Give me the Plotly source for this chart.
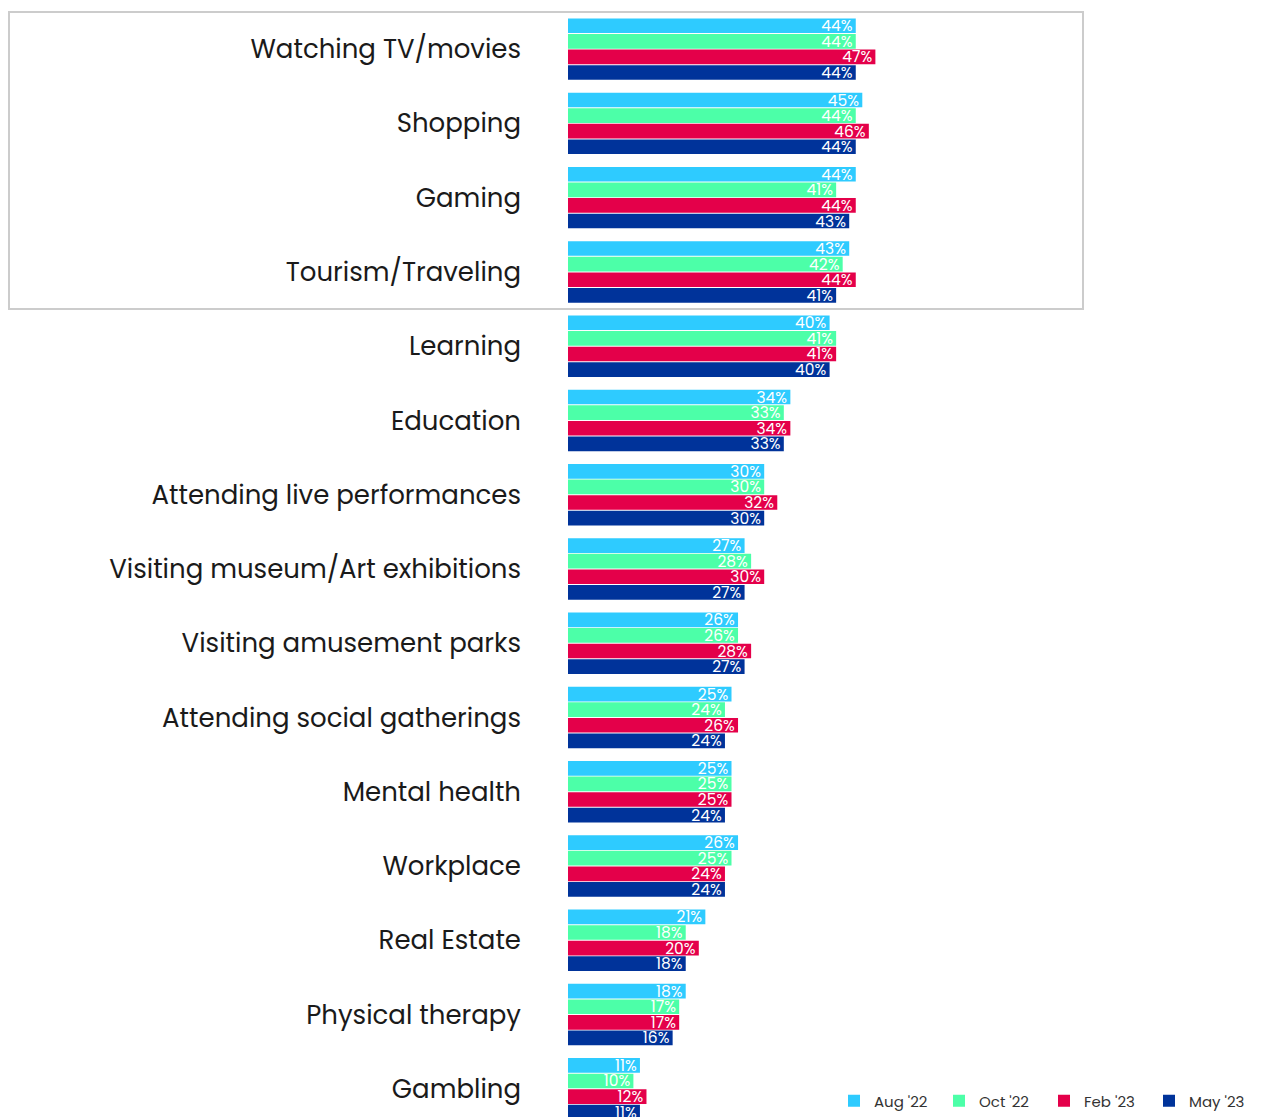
import plotly.graph_objects as go

categories = ["Watching TV/movies", "Shopping", "Gaming", "Tourism/Traveling", "Learning",
              "Education", "Attending live performances", "Visiting museum/Art exhibitions",
              "Visiting amusement parks", "Attending social gatherings", "Mental health",
              "Workplace", "Real Estate", "Physical therapy", "Gambling"]
series_names = ["Aug '22", "Oct '22", "Feb '23", "May '23"]
aug22 = [44, 45, 44, 43, 40, 34, 30, 27, 26, 25, 25, 26, 21, 18, 11]
oct22 = [44, 44, 41, 42, 41, 33, 30, 28, 26, 24, 25, 25, 18, 17, 10]
feb23 = [47, 46, 44, 44, 41, 34, 32, 30, 28, 26, 25, 24, 20, 17, 12]
may23 = [44, 44, 43, 41, 40, 33, 30, 27, 27, 24, 24, 24, 18, 16, 11]
colors = ["#2ECBFF", "#4CFFA8", "#E4004A", "#00339A"]

FONT = "Poppins, Inter, 'Noto Sans', sans-serif"
W, H = 1255, 1109
ML, MR, MT, MB = 560, 41, 4, 0

fig = go.Figure()
for name, vals, col in zip(series_names, [aug22, oct22, feb23, may23], colors):
    fig.add_trace(go.Bar(
        y=categories, x=vals, name=name, orientation="h",
        marker=dict(color=col, line=dict(width=0)),
        text=[f"{v}%" for v in vals], textposition="inside", insidetextanchor="end",
        textangle=0,
        textfont=dict(color="white", size=15.5, family=FONT),
        constraintext="none", cliponaxis=True, hoverinfo="x+name",
    ))

y_bottom = len(categories) - 1 + 0.38
y_top = -0.5
box_bottom_cat = 3.5
def ypaper(c):
    return (y_bottom - c) / (y_bottom - y_top)

plot_w = W - ML - MR
plot_h = H - MT - MB
fig.add_shape(type="rect", xref="paper", yref="paper",
              x0=(1 - ML) / plot_w, x1=(1075 - ML) / plot_w,
              y0=ypaper(box_bottom_cat), y1=ypaper(-0.5),
              line=dict(color="#cccccc", width=2), fillcolor="rgba(0,0,0,0)", layer="below")

fig.update_layout(
    width=W, height=H,
    margin=dict(l=ML, r=MR, t=MT, b=MB, autoexpand=False),
    paper_bgcolor="white", plot_bgcolor="white",
    barmode="group", bargap=0.16, bargroupgap=0.06,
    font=dict(family=FONT, color="#1a1a1a"),
    xaxis=dict(range=[0, 100], visible=False, fixedrange=True),
    yaxis=dict(range=[y_bottom, y_top], showgrid=False, showline=False, ticks="",
               tickfont=dict(size=26, color="#1a1a1a", family=FONT),
               ticklabelstandoff=46, automargin=False),
    legend=dict(orientation="h", x=(826 - ML) / plot_w, xanchor="left",
                y=(H - 1093) / plot_h, yanchor="middle",
                font=dict(size=15, color="#333333", family=FONT),
                entrywidth=60, entrywidthmode="pixels",
                traceorder="normal", itemclick=False, bgcolor="rgba(0,0,0,0)"),
    showlegend=True,
)

fig.write_html("out.html")
